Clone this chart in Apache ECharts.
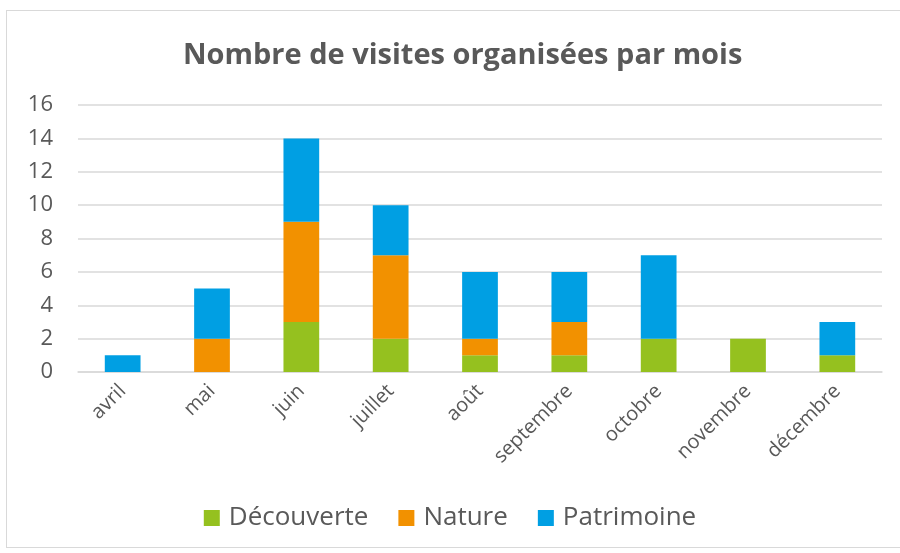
<!DOCTYPE html>
<html>
<head>
<meta charset="utf-8">
<script src="https://cdn.jsdelivr.net/npm/echarts@6/dist/echarts.min.js"></script>
<style>
  html, body { margin: 0; padding: 0; background: #fff; }
  #frame { position: absolute; left: 6px; top: 10px; width: 900px; height: 538px; border: 1px solid #d9d9d9; box-sizing: border-box; }
  #main { position: absolute; left: 0; top: 0; width: 900px; height: 553px; }
</style>
</head>
<body>
<div id="frame"></div>
<div id="main"></div>
<script>
// mois et valeurs
var mois = ['avril', 'mai', 'juin', 'juillet', 'août', 'septembre', 'octobre', 'novembre', 'décembre'];
var decouverte = [0, 0, 3, 2, 1, 1, 2, 2, 1];
var nature = [0, 2, 6, 5, 1, 2, 0, 0, 0];
var patrimoine = [1, 3, 5, 3, 4, 3, 5, 0, 2];

var police = 'Open Sans';
var myChart = echarts.init(document.getElementById('main'));
myChart.setOption({
  animation: false,
  title: {
    text: 'Nombre de visites organisées par mois',
    left: 178,
    top: 36,
    textStyle: { fontFamily: police, fontSize: 29, fontWeight: 'bold', color: '#595959' }
  },
  legend: {
    bottom: 17,
    left: 'center',
    itemWidth: 16,
    itemHeight: 16,
    itemGap: 30,
    icon: 'rect',
    textStyle: { fontFamily: police, fontSize: 26, color: '#595959', padding: [0, 0, 0, 4] },
    data: ['Découverte', 'Nature', 'Patrimoine']
  },
  grid: { left: 78, right: 18, top: 105, bottom: 181, containLabel: false },
  xAxis: {
    type: 'category',
    data: mois,
    axisLine: { lineStyle: { color: '#d9d9d9', width: 1.5 } },
    axisTick: { show: false },
    axisLabel: { rotate: 45, fontFamily: police, fontSize: 20, color: '#595959', margin: 16 }
  },
  yAxis: {
    type: 'value',
    min: 0,
    max: 16,
    interval: 2,
    axisLine: { show: false },
    axisTick: { show: false },
    axisLabel: { fontFamily: police, fontSize: 22, color: '#595959', margin: 25 },
    splitLine: { lineStyle: { color: '#d9d9d9', width: 1.5 } }
  },
  series: [
    { name: 'Découverte', type: 'bar', stack: 'total', barWidth: '40%', data: decouverte, itemStyle: { color: '#95C11F' } },
    { name: 'Nature', type: 'bar', stack: 'total', data: nature, itemStyle: { color: '#F29100' } },
    { name: 'Patrimoine', type: 'bar', stack: 'total', data: patrimoine, itemStyle: { color: '#009FE3' } }
  ]
});
</script>
</body>
</html>
